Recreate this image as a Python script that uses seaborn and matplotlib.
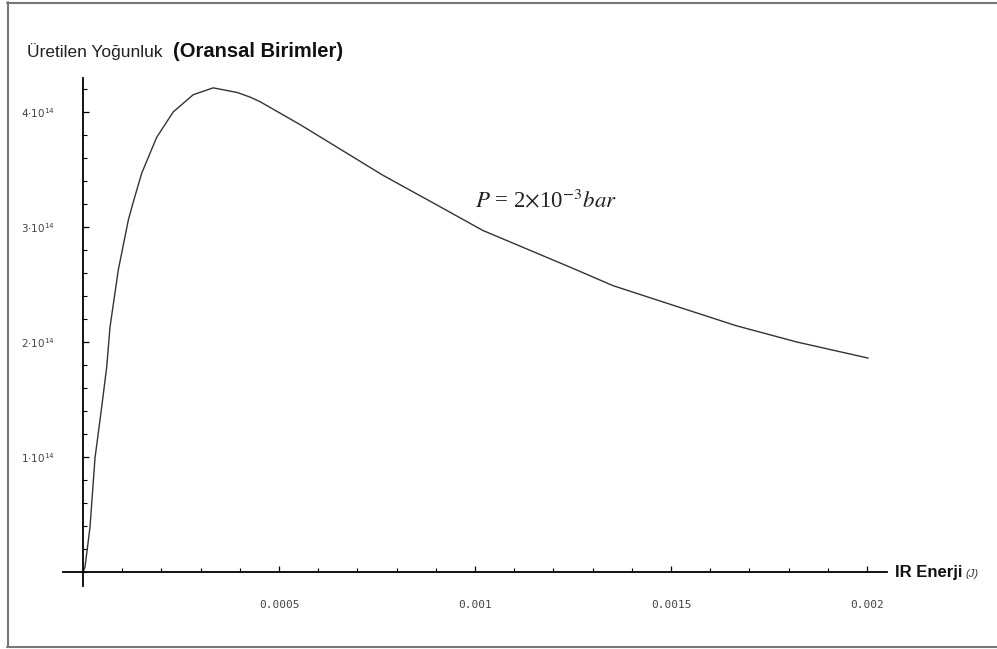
import numpy as np
import pandas as pd
import seaborn as sns
import matplotlib
matplotlib.use("Agg")
import matplotlib.pyplot as plt
from matplotlib.ticker import MultipleLocator, FixedLocator
from matplotlib.lines import Line2D

# Data (x in J, y in relative units)
energy_mJ = [0.0, 0.0051, 0.0179, 0.0306, 0.0477, 0.0605, 0.0689, 0.0900, 0.1156,
             0.1276, 0.150, 0.188, 0.230, 0.281, 0.332, 0.393, 0.426, 0.4515,
             0.554, 0.765, 0.893, 1.020, 1.250, 1.352, 1.523, 1.668, 1.821, 2.003]
intensity_e14 = [0.0, 0.043, 0.391, 0.991, 1.435, 1.783, 2.13, 2.626, 3.06,
                 3.21, 3.47, 3.78, 4.00, 4.15, 4.21, 4.17, 4.13, 4.09,
                 3.89, 3.45, 3.21, 2.97, 2.64, 2.49, 2.30, 2.14, 2.00, 1.86]

x_ticks = [0.0005, 0.001, 0.0015, 0.002]
x_tick_labels = ["0.0005", "0.001", "0.0015", "0.002"]
y_ticks = [1e14, 2e14, 3e14, 4e14]
y_tick_labels = [r"1$\cdot$10$^{14}$", r"2$\cdot$10$^{14}$",
                 r"3$\cdot$10$^{14}$", r"4$\cdot$10$^{14}$"]

df = pd.DataFrame({
    "energy": np.array(energy_mJ) * 1e-3,
    "intensity": np.array(intensity_e14) * 1e14,
})

sns.set_style("white")
plt.rcParams['font.family'] = ['DejaVu Sans']

W, H = 997, 649
fig = plt.figure(figsize=(W / 100, H / 100), dpi=100)

# axes placement (pixel-based)
xl, xr = -0.00005, 0.00205
yb, yt = -0.12e14, 4.3e14
px_left, px_right = 63.4, 886.6
py_bottom, py_top = 585.8, 77.5
ax = fig.add_axes([px_left / W, 1 - py_bottom / H,
                   (px_right - px_left) / W, (py_bottom - py_top) / H])

sns.lineplot(data=df, x="energy", y="intensity", ax=ax, color="#333333",
             linewidth=1.0, sort=False)

ax.set_xlim(xl, xr)
ax.set_ylim(yb, yt)
ax.set_xlabel("")
ax.set_ylabel("")

for s in ["top", "right"]:
    ax.spines[s].set_visible(False)
ax.spines["left"].set_position(("data", 0))
ax.spines["bottom"].set_position(("data", 0))
for s in ["left", "bottom"]:
    ax.spines[s].set_color("black")
    ax.spines[s].set_linewidth(1.3)

ax.xaxis.set_major_locator(FixedLocator(x_ticks))
ax.set_xticklabels(x_tick_labels)
ax.xaxis.set_minor_locator(MultipleLocator(0.0001))
ax.yaxis.set_major_locator(FixedLocator(y_ticks))
ax.set_yticklabels(y_tick_labels)
ax.yaxis.set_minor_locator(MultipleLocator(0.2e14))

ax.tick_params(axis="x", which="both", bottom=True, top=False)
ax.tick_params(axis="y", which="both", left=True, right=False)
ax.tick_params(axis="both", which="major", direction="in", length=4.5,
               width=0.9, color="black", labelsize=7.5, labelcolor="#444444")
ax.tick_params(axis="both", which="minor", direction="in", length=3,
               width=0.8, color="black")
ax.tick_params(axis="x", which="major", pad=20)
ax.tick_params(axis="y", which="major", pad=20)
for lbl in ax.get_xticklabels():
    lbl.set_family("DejaVu Sans Mono")
    lbl.set_fontsize(8)

# annotation
ax.text(0.001, 3.23e14, r"$P$ = 2$\times$10$^{-3}$$bar$",
        fontsize=16.5, family="Liberation Serif", va="center", ha="left",
        color="#222222", math_fontfamily="stix")

# title and axis label
fig.text(27 / W, 1 - 57 / H, "Üretilen Yoğunluk", fontsize=12.5,
         family="Liberation Sans", color="#222222", va="baseline", ha="left")
fig.text(173 / W, 1 - 57 / H, "(Oransal Birimler)", fontsize=14.5,
         family="Liberation Sans", weight="bold", color="#111111",
         va="baseline", ha="left")
fig.text(895 / W, 1 - 577 / H, "IR Enerji", fontsize=12,
         family="Liberation Sans", weight="bold", color="#111111",
         va="baseline", ha="left")
fig.text(965 / W, 1 - 577 / H, "(J)", fontsize=8, style="italic",
         family="Liberation Sans", color="#333333", va="baseline", ha="left")

# frame border
def pxline(x0, y0, x1, y1):
    fig.add_artist(Line2D([x0 / W, x1 / W], [1 - y0 / H, 1 - y1 / H],
                          transform=fig.transFigure, color="#777777",
                          linewidth=1.5))

pxline(7, 2.5, 997, 2.5)
pxline(7.5, 2, 7.5, 647)
pxline(7, 646.5, 997, 646.5)

fig.savefig("out.png", dpi=100, facecolor="white")
